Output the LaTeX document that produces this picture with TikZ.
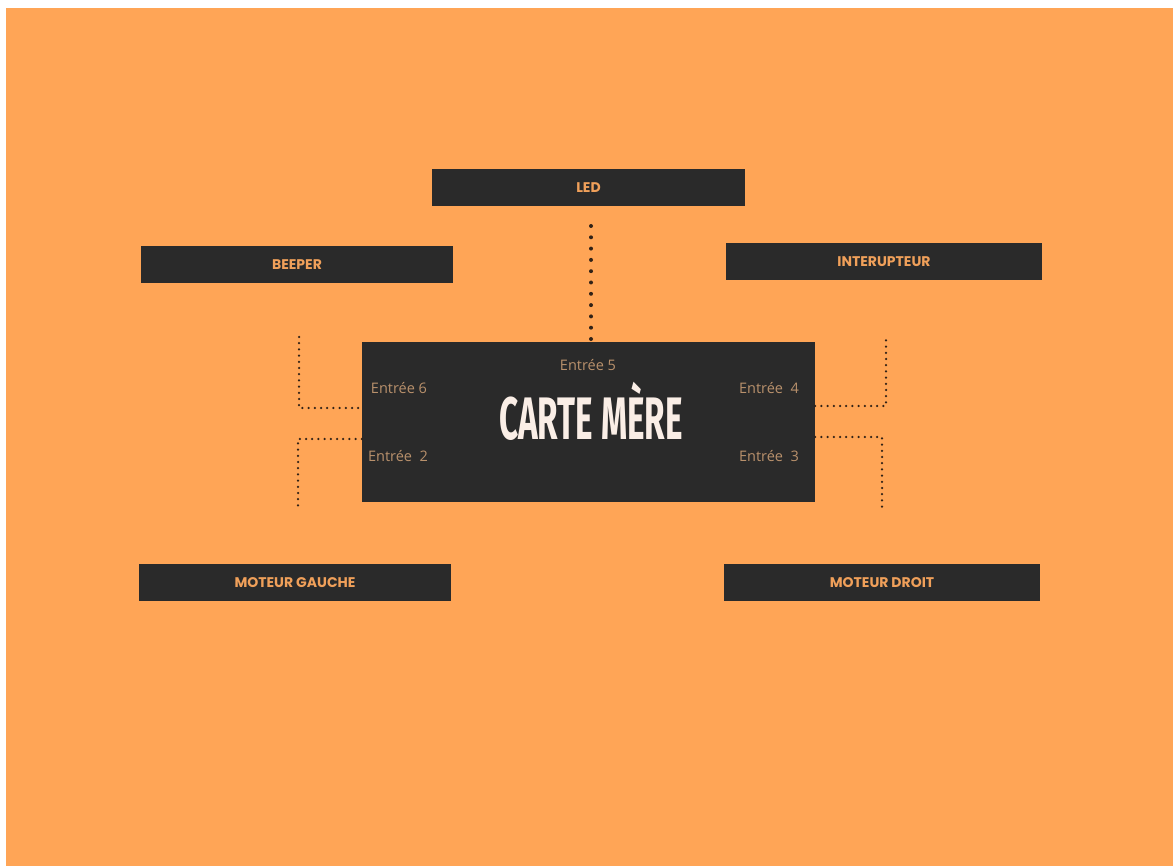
\documentclass[tikz,border=0pt]{standalone}
\usepackage{fontspec}
\setmainfont{Open Sans}
\newfontfamily\boxfont{Poppins}
\newfontfamily\titlefont{Fira Sans}
\definecolor{bg}{RGB}{255,165,86}
\definecolor{darkbox}{RGB}{42,42,42}
\definecolor{lbl}{RGB}{240,160,90}
\definecolor{port}{RGB}{185,145,108}
\definecolor{dotc}{RGB}{50,34,22}
\definecolor{titlec}{RGB}{250,238,230}
\begin{document}
\begin{tikzpicture}[x=1pt,y=-1pt,
  boxnode/.style={fill=darkbox,draw=none,minimum height=37pt,inner sep=0pt,
    font=\boxfont\bfseries\fontsize{14}{14}\selectfont,text=lbl},
  portlbl/.style={inner sep=0pt,font=\fontsize{14.5}{14.5}\selectfont,text=port},
  bigdots/.style={draw=dotc,line width=4pt,line cap=round,dash pattern=on 0pt off 11.3pt},
  smalldots/.style={draw=dotc,line width=2.5pt,line cap=round,dash pattern=on 0pt off 6.2pt}]
\useasboundingbox (0,0) rectangle (1173,866);
\fill[white] (0,0) rectangle (1173,866);
\fill[bg] (6,8) rectangle (1173,866);

\node[boxnode,minimum width=313pt] (led) at (588.5,187.5) {LED};
\node[boxnode,minimum width=312pt] (beeper) at (297,264.5) {BEEPER};
\node[boxnode,minimum width=316pt] (inter) at (884,261.5) {INTERUPTEUR};
\node[boxnode,minimum width=312pt] (mg) at (295,582.5) {MOTEUR GAUCHE};
\node[boxnode,minimum width=316pt] (md) at (882,582.5) {MOTEUR DROIT};
\node[fill=darkbox,minimum width=453pt,minimum height=160pt,inner sep=0pt] (main) at (588.5,422) {};
\node[inner sep=0pt,text=titlec] (title) at (591,411)
  {\scalebox{0.555}[1]{\titlefont\bfseries\fontsize{60}{60}\selectfont CARTE MÈRE}};

\node[portlbl] (p5) at (588,365) {Entrée 5};
\node[portlbl] (p6) at (399,388) {Entrée 6};
\node[portlbl] (p4) at (769,388) {Entrée\ \ 4};
\node[portlbl] (p2) at (398,456) {Entrée\ \ 2};
\node[portlbl] (p3) at (769,456) {Entrée\ \ 3};

% LED connector
\coordinate (c5) at (591,226);
\draw[bigdots] (c5) -- (c5 |- main.north);

% left upper (Entrée 6)
\coordinate (c6top) at (299,337);
\coordinate (c6) at (299,408);
\draw[smalldots] (c6top) -- (c6) -- (c6 -| main.west);
% left lower (Entrée 2)
\coordinate (c2) at (298,439);
\coordinate (c2bot) at (298,508);
\draw[smalldots] (c2 -| main.west) -- (c2) -- (c2bot);
% right upper (Entrée 4)
\coordinate (c4top) at (886,337);
\coordinate (c4) at (886,406);
\draw[smalldots] (c4 -| main.east) -- (c4) -- (c4top);
% right lower (Entrée 3)
\coordinate (c3) at (882,437);
\coordinate (c3bot) at (882,510);
\draw[smalldots] (c3 -| main.east) -- (c3) -- (c3bot);
\end{tikzpicture}
\end{document}
